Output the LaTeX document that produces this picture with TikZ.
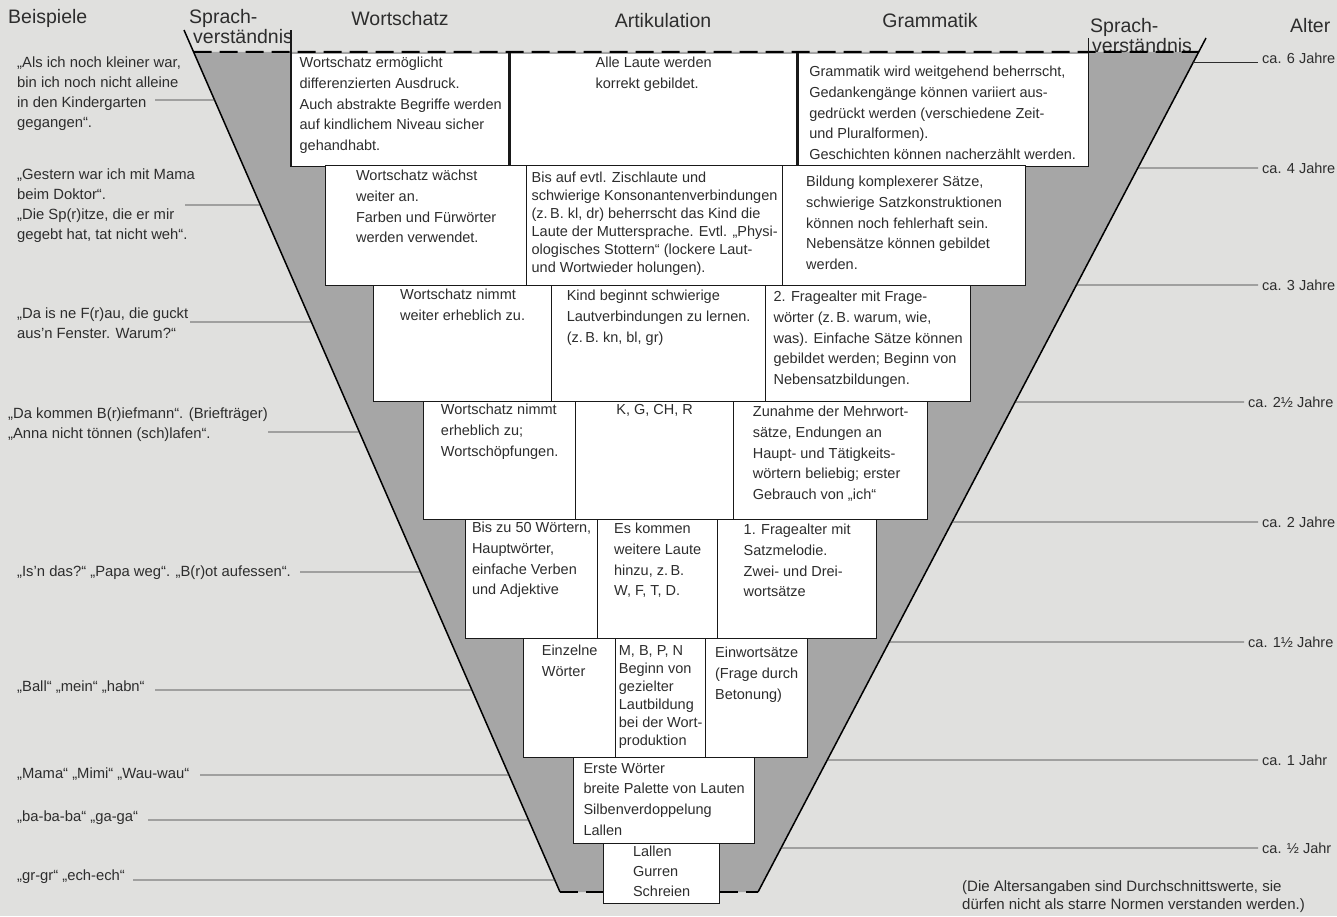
\documentclass[tikz,border=0pt]{standalone}
\usepackage{fontspec}
\setmainfont{Liberation Sans}
\usetikzlibrary{calc}
\definecolor{paper}{RGB}{224,224,222}
\definecolor{funnel}{RGB}{166,166,166}
\definecolor{ink}{RGB}{45,45,45}
\newcommand\ptOnL[2]{\coordinate (#1) at ($(Ltop)!{(#2-30)/862}!(Lbot)$);}
\newcommand\ptOnR[2]{\coordinate (#1) at ($(Rtop)!{(#2-38)/854}!(Rbot)$);}
\begin{document}
\begin{tikzpicture}[x=1pt,y=-1pt,
  cell/.style={draw=black!90, line width=1.3pt, fill=white, inner sep=0pt, anchor=north west},
  cellline/.style={draw=black!90, line width=1.3pt},
  celltxt/.style={anchor=north, align=left, inner sep=0pt, text=ink, font=\fontsize{14.5}{20.7}\selectfont},
  tight/.style={font=\fontsize{14.5}{18}\selectfont},
  head/.style={inner sep=0pt, text=ink, font=\fontsize{19.5}{22}\selectfont},
  ex/.style={anchor=north west, align=left, inner sep=0pt, text=ink, font=\fontsize{14.8}{20}\selectfont},
  age/.style={anchor=west, inner sep=0pt, text=ink, font=\fontsize{14.5}{17}\selectfont},
  conn/.style={draw=ink, line width=0.9pt},
  edgeline/.style={draw=black, line width=1.5pt},
  dashline/.style={draw=black, line width=2pt, dash pattern=on 18pt off 8pt},
]
% background
\fill[paper] (0,0) rectangle (1337,916);
\useasboundingbox (0,0) rectangle (1337,916);

% funnel outline points
\coordinate (Ltop) at (184,30);
\coordinate (Lbot) at (560,892);
\coordinate (Rtop) at (1206,38);
\coordinate (Rbot) at (758,892);
\ptOnL{L52}{52}
\ptOnR{R52}{52}
\fill[funnel] (L52) -- (R52) -- (Rbot) -- (Lbot) -- cycle;

% headers
\node[head, anchor=north west] (hBsp) at (8,9) {Beispiele};
\node[head, anchor=north west] (hSpL) at (189,9) {Sprach-};
\node[head, anchor=north west] (hVerL) at (193,29) {verständnis};
\node[head, anchor=north] (hWort) at (400,11) {Wortschatz};
\node[head, anchor=north] (hArt) at (663,13) {Artikulation};
\node[head, anchor=north] (hGram) at (930,13) {Grammatik};
\node[head, anchor=north west] (hSpR) at (1090,18) {Sprach-};
\node[head, anchor=north west] (hVerR) at (1092,38) {verständnis};
\node[head, anchor=north west] (hAlter) at (1290,18) {Alter};

% row 1 (top edge is the dashed line)
\node[cell, draw=none, minimum width=218pt, minimum height=112pt] (r1a) at (291,53) {};
\node[cell, draw=none, minimum width=288pt, minimum height=112pt] (r1b) at (509,53) {};
\node[cell, draw=none, minimum width=290pt, minimum height=112pt] (r1c) at (797,53) {};
\foreach \b in {r1a,r1b,r1c}
  \draw[cellline] (\b.north west) -- (\b.south west) -- (\b.south east) -- (\b.north east);
% row 2
\node[cell, minimum width=201pt, minimum height=120pt] (r2a) at (325,165) {};
\node[cell, minimum width=256pt, minimum height=120pt] (r2b) at (526,165) {};
\node[cell, minimum width=243pt, minimum height=120pt] (r2c) at (782,165) {};
% row 3
\node[cell, minimum width=178pt, minimum height=116pt] (r3a) at (373,285) {};
\node[cell, minimum width=214pt, minimum height=116pt] (r3b) at (551,285) {};
\node[cell, minimum width=205pt, minimum height=116pt] (r3c) at (765,285) {};
% row 4
\node[cell, minimum width=152pt, minimum height=118pt] (r4a) at (423,401) {};
\node[cell, minimum width=158pt, minimum height=118pt] (r4b) at (575,401) {};
\node[cell, minimum width=194pt, minimum height=118pt] (r4c) at (733,401) {};
% row 5
\node[cell, minimum width=132pt, minimum height=119pt] (r5a) at (465,519) {};
\node[cell, minimum width=120pt, minimum height=119pt] (r5b) at (597,519) {};
\node[cell, minimum width=159pt, minimum height=119pt] (r5c) at (717,519) {};
% row 6
\node[cell, minimum width=92pt, minimum height=119pt] (r6a) at (523,638) {};
\node[cell, minimum width=90pt, minimum height=119pt] (r6b) at (615,638) {};
\node[cell, minimum width=102pt, minimum height=119pt] (r6c) at (705,638) {};
% row 7, 8
\node[cell, minimum width=181pt, minimum height=86pt] (r7) at (573,757) {};
\node[cell, minimum width=116pt, minimum height=60pt] (r8) at (603,843) {};

% funnel lines
\draw[dashline] (L52) -- (R52);
\draw[dashline, line width=1.5pt] (Lbot) -- (Lbot -| r8.west);
\draw[dashline, line width=1.5pt] (r8.east |- Rbot) -- (Rbot);
\draw[edgeline] (Ltop) -- (Lbot);
\draw[edgeline] (Rtop) -- (Rbot);
\draw[cellline] (r1a.north west) -- (r1a.north west |- Ltop);
\draw[cellline] (r1c.north east) -- (r1c.north east |- Rtop);

% cell texts
\node[celltxt] (t1a) at ($(r1a.north)+(0,4)$) {Wortschatz ermöglicht\\differenzierten Ausdruck.\\Auch abstrakte Begriffe werden\\auf kindlichem Niveau sicher\\gehandhabt.};
\node[celltxt] (t1b) at ($(r1b.north)+(0,4)$) {Alle Laute werden\\korrekt gebildet.};
\node[celltxt] (t1c) at ($(r1c.north)+(0,13)$) {Grammatik wird weitgehend beherrscht,\\Gedankengänge können variiert aus-\\gedrückt werden (verschiedene Zeit-\\und Pluralformen).\\Geschichten können nacherzählt werden.};

\node[celltxt] (t2a) at ($(r2a.north)+(0,5)$) {Wortschatz wächst\\weiter an.\\Farben und Fürwörter\\werden verwendet.};
\node[celltxt, tight] (t2b) at ($(r2b.north)+(0,7)$) {Bis auf evtl. Zischlaute und\\schwierige Konsonantenverbindungen\\(z.\,B. kl, dr) beherrscht das Kind die\\Laute der Muttersprache. Evtl. „Physi-\\ologisches Stottern“ (lockere Laut-\\und Wortwieder holungen).};
\node[celltxt] (t2c) at ($(r2c.north)+(0,11)$) {Bildung komplexerer Sätze,\\schwierige Satzkonstruktionen\\können noch fehlerhaft sein.\\Nebensätze können gebildet\\werden.};

\node[celltxt] (t3a) at ($(r3a.north)+(0,4)$) {Wortschatz nimmt\\weiter erheblich zu.};
\node[celltxt] (t3b) at ($(r3b.north)+(0,5)$) {Kind beginnt schwierige\\Lautverbindungen zu lernen.\\(z.\,B. kn, bl, gr)};
\node[celltxt] (t3c) at ($(r3c.north)+(0,6)$) {2. Fragealter mit Frage-\\wörter (z.\,B. warum, wie,\\was). Einfache Sätze können\\gebildet werden; Beginn von\\Nebensatzbildungen.};

\node[celltxt] (t4a) at ($(r4a.north)+(0,3)$) {Wortschatz nimmt\\erheblich zu;\\Wortschöpfungen.};
\node[celltxt] (t4b) at ($(r4b.north)+(0,3)$) {K, G, CH, R};
\node[celltxt] (t4c) at ($(r4c.north)+(0,5)$) {Zunahme der Mehrwort-\\sätze, Endungen an\\Haupt- und Tätigkeits-\\wörtern beliebig; erster\\Gebrauch von „ich“};

\node[celltxt] (t5a) at ($(r5a.north)+(0,3)$) {Bis zu 50 Wörtern,\\Hauptwörter,\\einfache Verben\\und Adjektive};
\node[celltxt] (t5b) at ($(r5b.north)+(0,4)$) {Es kommen\\weitere Laute\\hinzu, z.\,B.\\W, F, T, D.};
\node[celltxt] (t5c) at ($(r5c.north)+(0,5)$) {1. Fragealter mit\\Satzmelodie.\\Zwei- und Drei-\\wortsätze};

\node[celltxt] (t6a) at ($(r6a.north)+(0,7)$) {Einzelne\\Wörter};
\node[celltxt, tight] (t6b) at ($(r6b.north)+(0,7)$) {M, B, P, N\\Beginn von\\gezielter\\Lautbildung\\bei der Wort-\\produktion};
\node[celltxt] (t6c) at ($(r6c.north)+(0,9)$) {Einwortsätze\\(Frage durch\\Betonung)};

\node[celltxt] (t7) at ($(r7.north)+(0,6)$) {Erste Wörter\\breite Palette von Lauten\\Silbenverdoppelung\\Lallen};
\node[celltxt, font=\fontsize{14.5}{20}\selectfont] (t8) at ($(r8.north)+(0,3)$) {Lallen\\Gurren\\Schreien};

% examples (left)
\node[ex] (ex1) at (17,57) {„Als ich noch kleiner war,\\bin ich noch nicht alleine\\in den Kindergarten\\gegangen“.};
\node[ex] (ex2) at (17,169) {„Gestern war ich mit Mama\\beim Doktor“.\\„Die Sp(r)itze, die er mir\\gegebt hat, tat nicht weh“.};
\node[ex] (ex3) at (17,308) {„Da is ne F(r)au, die guckt\\aus’n Fenster. Warum?“};
\node[ex] (ex4) at (8,408) {„Da kommen B(r)iefmann“. (Briefträger)\\„Anna nicht tönnen (sch)lafen“.};
\node[ex] (ex5) at (17,566) {„Is’n das?“ „Papa weg“. „B(r)ot aufessen“.};
\node[ex] (ex6) at (17,681) {„Ball“ „mein“ „habn“};
\node[ex] (ex7) at (17,768) {„Mama“ „Mimi“ „Wau-wau“};
\node[ex] (ex8) at (17,811) {„ba-ba-ba“ „ga-ga“};
\node[ex] (ex9) at (17,870) {„gr-gr“ „ech-ech“};

\coordinate (s1) at (155,100); \ptOnL{e1}{100}
\coordinate (s2) at (185,205); \ptOnL{e2}{205}
\coordinate (s3) at (190,322); \ptOnL{e3}{322}
\coordinate (s4) at (268,432); \ptOnL{e4}{432}
\coordinate (s5) at (300,572); \ptOnL{e5}{572}
\coordinate (s6) at (155,690); \ptOnL{e6}{690}
\coordinate (s7) at (200,775); \ptOnL{e7}{775}
\coordinate (s8) at (148,820); \ptOnL{e8}{820}
\coordinate (s9) at (133,880); \ptOnL{e9}{880}
\foreach \i in {1,...,9} \draw[conn] (s\i) -- (e\i);

% ages (right)
\node[age] (a1) at (1262,58) {ca. 6 Jahre};
\node[age] (a2) at (1262,168) {ca. 4 Jahre};
\node[age] (a3) at (1262,285) {ca. 3 Jahre};
\node[age] (a4) at (1248,402) {ca. 2½ Jahre};
\node[age] (a5) at (1262,522) {ca. 2 Jahre};
\node[age] (a6) at (1248,642) {ca. 1½ Jahre};
\node[age] (a7) at (1262,760) {ca. 1 Jahr};
\node[age] (a8) at (1262,848) {ca. ½ Jahr};
\ptOnR{g1}{62}
\ptOnR{g2}{168}
\ptOnR{g3}{285}
\ptOnR{g4}{402}
\ptOnR{g5}{522}
\ptOnR{g6}{642}
\ptOnR{g7}{760}
\ptOnR{g8}{848}
\draw[conn] (g1) -- ([xshift=-4pt]a1.west |- g1);
\foreach \i in {2,...,8} \draw[conn] (g\i) -- ([xshift=-4pt]a\i.west);

% note
\node[ex, font=\fontsize{15}{18}\selectfont] (note) at (962,880) {(Die Altersangaben sind Durchschnittswerte, sie\\dürfen nicht als starre Normen verstanden werden.)};
\end{tikzpicture}
\end{document}
